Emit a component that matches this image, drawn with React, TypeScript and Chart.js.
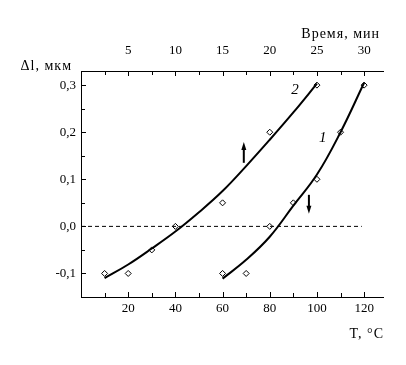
import React, { useEffect, useRef } from 'react';
import { Chart, registerables } from 'chart.js';

Chart.register(...registerables);

// Axis ticks
const T_TICKS = [20, 40, 60, 80, 100, 120];
const T_MINOR = [10, 30, 50, 70, 90, 110];
const TIME_TICKS = [5, 10, 15, 20, 25, 30];
const TIME_MINOR = [2.5, 7.5, 12.5, 17.5, 22.5, 27.5];
const DL_TICKS = [-0.1, 0, 0.1, 0.2, 0.3];
const DL_MINOR = [-0.05, 0.05, 0.15, 0.25];

// Measured points
const T1 = [60, 70, 80, 90, 100, 110, 120];
const DL1 = [-0.1, -0.1, 0, 0.05, 0.1, 0.2, 0.3];
const T2 = [10, 20, 30, 40, 60, 80, 100];
const DL2 = [-0.1, -0.1, -0.05, 0, 0.05, 0.2, 0.3];

// Fitted curves
const FIT_T1 = [60, 70, 80, 90, 100, 110, 120];
const FIT_DL1 = [-0.111, -0.071, -0.022, 0.044, 0.11, 0.2, 0.305];
const FIT_T2 = [10, 20, 30, 40, 50, 60, 70, 80, 90, 100];
const FIT_DL2 = [-0.11, -0.081, -0.047, -0.011, 0.03, 0.075, 0.128, 0.184, 0.242, 0.303];

// Zero reference line
const ZERO_T = [0, 119];
const ZERO_DL = [0, 0];

// Arrows (T position, tail value, tip value)
const ARROW_T = [69, 96.6];
const ARROW_FROM = [0.135, 0.067];
const ARROW_TO = [0.179, 0.027];

// Curve labels
const CURVE_LABELS = ['1', '2'];
const LABEL_T = [102.5, 90.7];
const LABEL_DL = [0.188, 0.29];

const X_TITLE = 'T, °C';
const X2_TITLE = 'Время, мин';
const Y_TITLE = 'Δl, мкм';

const FONT = '"Liberation Serif", "Times New Roman", serif';

const pts = (xs: number[], ys: number[]) => xs.map((x, i) => ({ x, y: ys[i] }));

const decorPlugin = {
  id: 'decor',
  afterDraw(chart: any) {
    const ctx = chart.ctx as CanvasRenderingContext2D;
    const { left, right, top, bottom } = chart.chartArea;
    const xs = chart.scales.x;
    const x2 = chart.scales.x2;
    const ys = chart.scales.y;
    ctx.save();
    ctx.strokeStyle = '#000';
    ctx.fillStyle = '#000';
    ctx.lineWidth = 1;
    const tickX = (scale: any, vals: number[], len: number, y0: number, dir: number) => {
      vals.forEach((v) => {
        const px = Math.round(scale.getPixelForValue(v)) + 0.5;
        ctx.beginPath();
        ctx.moveTo(px, y0);
        ctx.lineTo(px, y0 + dir * len);
        ctx.stroke();
      });
    };
    tickX(xs, T_TICKS, 5, bottom, -1);
    tickX(xs, T_MINOR, 4, bottom, -1);
    tickX(x2, TIME_TICKS, 5, top, 1);
    tickX(x2, TIME_MINOR, 4, top, 1);
    const tickY = (vals: number[], len: number) => {
      vals.forEach((v) => {
        const py = Math.round(ys.getPixelForValue(v)) + 0.5;
        ctx.beginPath();
        ctx.moveTo(left, py);
        ctx.lineTo(left + len, py);
        ctx.stroke();
      });
    };
    tickY(DL_TICKS, 5);
    tickY(DL_MINOR, 4);

    // arrows
    ARROW_T.forEach((t, i) => {
      const px = xs.getPixelForValue(t);
      const p0 = ys.getPixelForValue(ARROW_FROM[i]);
      const p1 = ys.getPixelForValue(ARROW_TO[i]);
      const dir = p1 < p0 ? -1 : 1;
      ctx.lineWidth = 2;
      ctx.beginPath();
      ctx.moveTo(px, p0);
      ctx.lineTo(px, p1 - dir * 6);
      ctx.stroke();
      ctx.beginPath();
      ctx.moveTo(px, p1);
      ctx.lineTo(px - 2.5, p1 - dir * 8);
      ctx.lineTo(px + 2.5, p1 - dir * 8);
      ctx.closePath();
      ctx.fill();
    });

    // curve labels
    ctx.font = 'italic 15px ' + FONT;
    ctx.textAlign = 'center';
    ctx.textBaseline = 'middle';
    CURVE_LABELS.forEach((s, i) => {
      ctx.fillText(s, xs.getPixelForValue(LABEL_T[i]), ys.getPixelForValue(LABEL_DL[i]));
    });

    // axis titles
    ctx.font = '14px ' + FONT;
    (ctx as any).letterSpacing = '1px';
    ctx.textBaseline = 'alphabetic';
    ctx.textAlign = 'right';
    ctx.fillText(X_TITLE, right + 1, 338);
    ctx.fillText(X2_TITLE, right - 3, 38);
    ctx.fillText(Y_TITLE, 72, 70);
    ctx.restore();
  },
};

export default function App() {
  const ref = useRef<HTMLCanvasElement>(null);
  useEffect(() => {
    if (!ref.current) return;
    const black = '#000';
    const chart = new Chart(ref.current, {
      type: 'scatter',
      data: {
        datasets: [
          {
            data: pts(ZERO_T, ZERO_DL),
            showLine: true,
            borderColor: black,
            borderWidth: 1,
            borderDash: [4, 3],
            pointRadius: 0,
          },
          {
            data: pts(FIT_T1, FIT_DL1),
            showLine: true,
            borderColor: black,
            borderWidth: 2,
            pointRadius: 0,
            tension: 0.4,
          },
          {
            data: pts(FIT_T2, FIT_DL2),
            showLine: true,
            borderColor: black,
            borderWidth: 2,
            pointRadius: 0,
            tension: 0.4,
          },
          {
            data: pts(T1, DL1),
            showLine: false,
            pointStyle: 'rectRot',
            pointRadius: 3,
            borderWidth: 1,
            borderColor: black,
            backgroundColor: '#fff',
          },
          {
            data: pts(T2, DL2),
            showLine: false,
            pointStyle: 'rectRot',
            pointRadius: 3,
            borderWidth: 1,
            borderColor: black,
            backgroundColor: '#fff',
          },
        ],
      } as any,
      options: {
        responsive: false,
        animation: false,
        devicePixelRatio: 1,
        layout: { padding: { left: 0, right: 23, top: 0, bottom: 0 } },
        plugins: { legend: { display: false }, tooltip: { enabled: false } },
        scales: {
          x: {
            type: 'linear',
            position: 'bottom',
            min: 0,
            max: 128,
            grid: { display: false, drawTicks: false },
            border: { display: true, color: black, width: 1 },
            afterBuildTicks: (s: any) => {
              s.ticks = T_TICKS.map((value) => ({ value }));
            },
            afterFit: (s: any) => {
              s.height = 68;
            },
            ticks: {
              color: black,
              padding: 4,
              font: { family: FONT, size: 13 },
              callback: (v: any) => String(v),
            },
          },
          x2: {
            type: 'linear',
            position: 'top',
            axis: 'x',
            min: 0,
            max: 32,
            grid: { display: false, drawTicks: false },
            border: { display: true, color: black, width: 1 },
            afterBuildTicks: (s: any) => {
              s.ticks = TIME_TICKS.map((value) => ({ value }));
            },
            afterFit: (s: any) => {
              s.height = 71;
            },
            ticks: {
              color: black,
              padding: 13,
              font: { family: FONT, size: 13 },
              callback: (v: any) => String(v),
            },
          },
          y: {
            type: 'linear',
            position: 'left',
            min: -0.15,
            max: 0.33,
            grid: { display: false, drawTicks: false },
            border: { display: true, color: black, width: 1 },
            afterBuildTicks: (s: any) => {
              s.ticks = DL_TICKS.map((value) => ({ value }));
            },
            afterFit: (s: any) => {
              s.width = 81;
            },
            ticks: {
              color: black,
              padding: 5,
              font: { family: FONT, size: 13 },
              callback: (v: any) => Number(v).toFixed(1).replace('.', ','),
            },
          },
        },
      } as any,
      plugins: [decorPlugin],
    });
    return () => chart.destroy();
  }, []);
  return (
    <div style={{ position: 'fixed', left: 0, top: 0, width: 406, height: 365, background: '#fff' }}>
      <canvas ref={ref} width={406} height={365} />
    </div>
  );
}
